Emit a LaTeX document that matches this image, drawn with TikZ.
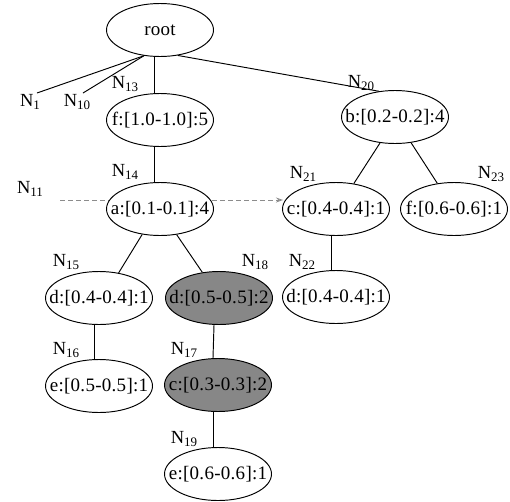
\documentclass[tikz,border=0pt]{standalone}
\usepackage{fontspec}
\setmainfont{Liberation Serif}
\newfontfamily\nodefont[LetterSpace=1.5]{Liberation Serif}
\usetikzlibrary{shapes.geometric,arrows.meta}
\definecolor{hitgray}{gray}{0.53}
\definecolor{linkgray}{gray}{0.55}
\newcommand{\Nlab}[1]{N\raisebox{-0.45ex}{\fontsize{13}{13}\selectfont #1}}
\tikzset{
  tnode/.style={ellipse, draw, line width=0.95pt, fill=white, minimum width=107pt,
    minimum height=53pt, inner xsep=-16pt, inner ysep=0pt,
    font=\nodefont\fontsize{19}{19}\selectfont},
  hit/.style={tnode, fill=hitgray},
  edge/.style={line width=0.95pt},
  nlabel/.style={inner sep=0pt, font=\fontsize{18.5}{18.5}\selectfont},
  link/.style={linkgray, line width=0.8pt, dash pattern=on 5pt off 3pt,
    -{Stealth[length=7pt,width=5pt,open]}}
}
\begin{document}
\begin{tikzpicture}[x=1pt,y=-1pt]
\useasboundingbox (0,0) rectangle (510,501);

% cross link drawn first so the nodes cover it
\coordinate (linkstart) at (60,200);
\coordinate (linkend) at (283,200);
\draw[link] (linkstart) -- (linkend);

% tree nodes
\node[tnode] (root) at (160,30) {root};
\node[tnode] (f)  at (160,120) {f:[1.0-1.0]:5};
\node[tnode] (a)  at (160,209) {a:[0.1-0.1]:4};
\node[tnode] (d1) at (99,298)  {d:[0.4-0.4]:1};
\node[hit]   (d2) at (219,298) {d:[0.5-0.5]:2};
\node[tnode] (e1) at (99,386)  {e:[0.5-0.5]:1};
\node[hit]   (c2) at (218,385) {c:[0.3-0.3]:2};
\node[tnode] (e2) at (218,474) {e:[0.6-0.6]:1};
\node[tnode] (b)  at (395,117) {b:[0.2-0.2]:4};
\node[tnode] (c)  at (336,209) {c:[0.4-0.4]:1};
\node[tnode] (f2) at (454,209) {f:[0.6-0.6]:1};
\node[tnode] (d3) at (336,297) {d:[0.4-0.4]:1};

% free ends of the pruned branches
\coordinate (end1) at (37,93);
\coordinate (end10) at (83,93);

% connectors
\draw[edge] (root.-122) -- (end1);
\draw[edge] (root.-122) -- (end10);
\draw[edge] ([xshift=-6pt]root.south) -- ([xshift=-6pt]f.north);
\draw[edge] (root.-55) -- (b.122);
\draw[edge] ([xshift=-6pt]f.south) -- ([xshift=-6pt]a.north);
\draw[edge] (a.-125) -- (d1.52);
\draw[edge] (a.-57) -- (d2.123);
\draw[edge] ([xshift=-5pt]d1.south) -- ([xshift=-5pt]e1.north);
\draw[edge] ([xshift=-5pt]d2.south) -- ([xshift=-5pt]c2.north);
\draw[edge] ([xshift=-5pt]c2.south) -- ([xshift=-5pt]e2.north);
\draw[edge] (b.-120) -- (c.55);
\draw[edge] (b.-58) -- (f2.123);
\draw[edge] ([xshift=-5pt]c.south) -- ([xshift=-5pt]d3.north);

% branch labels
\node[nlabel] (l1)  at (30,102)  {\Nlab{1}};
\node[nlabel] (l10) at (77,102)  {\Nlab{10}};
\node[nlabel] (l11) at (30,189)  {\Nlab{11}};
\node[nlabel] (l13) at (125,84)  {\Nlab{13}};
\node[nlabel] (l14) at (125,172) {\Nlab{14}};
\node[nlabel] (l15) at (66,262)  {\Nlab{15}};
\node[nlabel] (l16) at (66,350)  {\Nlab{16}};
\node[nlabel] (l17) at (184,350) {\Nlab{17}};
\node[nlabel] (l18) at (255,262) {\Nlab{18}};
\node[nlabel] (l19) at (184,439) {\Nlab{19}};
\node[nlabel] (l20) at (361,83)  {\Nlab{20}};
\node[nlabel] (l21) at (303,174) {\Nlab{21}};
\node[nlabel] (l22) at (302,262) {\Nlab{22}};
\node[nlabel] (l23) at (491,174) {\Nlab{23}};
\end{tikzpicture}
\end{document}
